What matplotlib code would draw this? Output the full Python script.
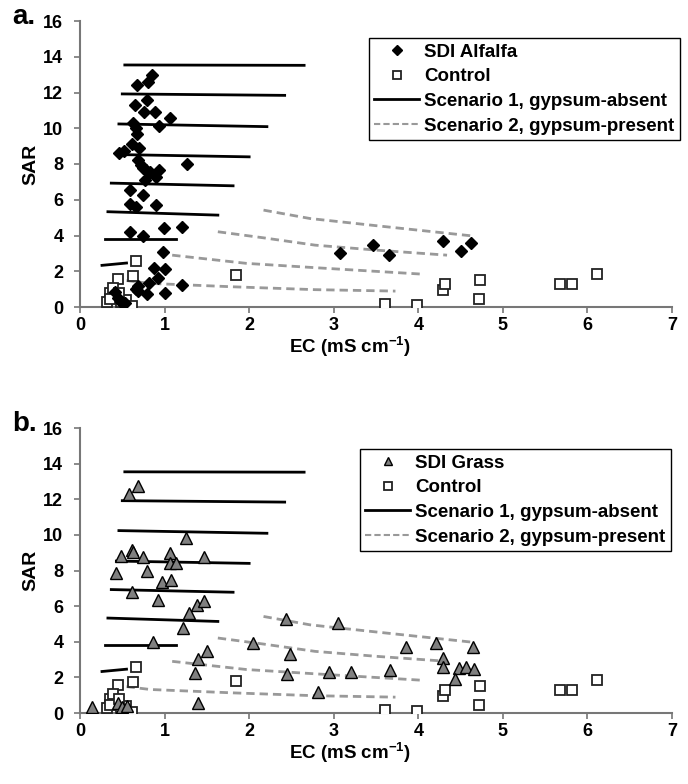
import matplotlib
matplotlib.use("Agg")
import matplotlib.pyplot as plt

plt.rcParams['font.family'] = ['Liberation Sans', 'DejaVu Sans']
plt.rcParams['font.weight'] = 'bold'
plt.rcParams['mathtext.fontset'] = 'custom'
plt.rcParams['mathtext.rm'] = 'Liberation Sans'
plt.rcParams['mathtext.bf'] = 'Liberation Sans:bold'

# SDI Alfalfa (panel a)
alf_ec = [0.85, 0.80, 0.67, 0.79, 0.65, 0.76, 0.89, 1.06, 0.63, 0.66, 0.94, 0.67,
          0.61, 0.70, 0.46, 0.52, 0.68, 0.72, 0.74, 0.78, 0.83, 0.93, 0.90, 0.77,
          1.26, 0.59, 0.75, 0.59, 0.66, 0.90, 0.59, 0.75, 0.99, 1.21, 0.98, 0.88,
          1.00, 0.92, 0.82, 1.21, 0.68, 0.66, 0.69, 0.79, 1.00, 0.41, 0.45, 0.48,
          0.53, 3.08, 3.46, 3.65, 4.29, 4.51, 4.62]
alf_sar = [13.0, 12.6, 12.4, 11.6, 11.3, 10.9, 10.9, 10.6, 10.3, 10.0, 10.1, 9.7,
           9.1, 8.9, 8.6, 8.75, 8.2, 7.95, 7.75, 7.65, 7.55, 7.65, 7.3, 7.1,
           8.0, 6.55, 6.27, 5.77, 5.6, 5.7, 4.2, 4.0, 4.4, 4.45, 3.05, 2.2,
           2.15, 1.65, 1.33, 1.25, 1.15, 1.0, 0.9, 0.7, 0.8, 0.85, 0.5, 0.3,
           0.25, 3.0, 3.46, 2.9, 3.69, 3.15, 3.6]

# SDI Grass (panel b)
grass_ec = [0.68, 0.58, 1.25, 0.61, 0.63, 0.49, 0.75, 1.07, 1.47, 1.07, 1.14, 0.43,
            0.79, 0.97, 1.08, 0.62, 0.92, 1.38, 1.47, 1.29, 1.22, 0.86, 1.50, 1.39,
            1.36, 1.39, 0.14, 0.45, 0.50, 0.55, 2.43, 2.05, 2.48, 2.45, 2.94, 2.82,
            3.05, 3.86, 3.21, 3.66, 4.21, 4.29, 4.29, 4.65, 4.48, 4.57, 4.66, 4.43]
grass_sar = [12.77, 12.3, 9.85, 9.16, 9.03, 8.84, 8.78, 9.0, 8.78, 8.44, 8.44, 7.88,
             8.0, 7.34, 7.47, 6.78, 6.35, 6.07, 6.31, 5.6, 4.76, 4.0, 3.5, 3.02,
             2.23, 0.54, 0.32, 0.55, 0.35, 0.4, 5.26, 3.92, 3.3, 2.17, 2.29, 1.2,
             5.04, 3.69, 2.32, 2.42, 3.95, 3.1, 2.57, 3.69, 2.51, 2.57, 2.46, 1.91]

# Control (same in both panels)
ctl_ec = [0.66, 0.63, 0.45, 1.84, 0.35, 0.32, 0.39, 0.36, 0.49, 0.54, 0.61, 0.46,
          3.61, 3.98, 4.29, 4.32, 4.73, 4.72, 5.67, 5.82, 6.11]
ctl_sar = [2.57, 1.75, 1.55, 1.79, 0.8, 0.3, 1.04, 0.45, 0.3, 0.39, 0.06, 0.76,
           0.17, 0.1, 0.95, 1.27, 1.5, 0.43, 1.27, 1.27, 1.84]

# Scenario 1, gypsum-absent (start/end of each line)
s1_ec = [[0.53, 2.65], [0.50, 2.42], [0.46, 2.21], [0.43, 2.00],
         [0.37, 1.81], [0.33, 1.63], [0.30, 1.13], [0.26, 0.55]]
s1_sar = [[13.54, 13.52], [11.92, 11.84], [10.24, 10.09], [8.53, 8.40],
          [6.93, 6.78], [5.33, 5.14], [3.80, 3.80], [2.33, 2.46]]

# Scenario 2, gypsum-present
s2_ec = [[2.17, 2.72, 3.50, 4.65],
         [1.63, 2.17, 2.78, 3.51, 4.34],
         [1.09, 1.97, 2.78, 4.04],
         [0.55, 0.83, 1.81, 2.78, 3.73]]
s2_sar = [[5.42, 4.95, 4.55, 3.97],
          [4.21, 3.87, 3.46, 3.18, 2.90],
          [2.90, 2.44, 2.20, 1.84],
          [1.48, 1.32, 1.13, 0.97, 0.89]]

W, H = 688, 784
fig = plt.figure(figsize=(W / 100, H / 100), dpi=100)

panels = [
    ("a.", alf_ec, alf_sar, "SDI Alfalfa", dict(marker="D", color="black", ms=6.5,
                                                 mec="black")),
    ("b.", grass_ec, grass_sar, "SDI Grass", dict(marker="^", color="#808080", ms=8,
                                                 mec="black", mew=1.0)),
]
ax_px = [(21, 307), (428, 713)]
leg_px = [(680, 38), (671, 449)]

for i, (tag, ex, sy, name, mk) in enumerate(panels):
    top, bot = ax_px[i]
    ax = fig.add_axes([80 / W, 1 - bot / H, 592 / W, (bot - top) / H])

    for xs, ys in zip(s1_ec, s1_sar):
        ax.plot(xs, ys, color="black", lw=2, zorder=2)
    for xs, ys in zip(s2_ec, s2_sar):
        ax.plot(xs, ys, color="#999999", lw=2, ls=(0, (3, 1.8)), zorder=2)

    ax.plot(ctl_ec, ctl_sar, ls="none", marker="s", ms=7, mfc="white",
            mec="#222222", mew=1.3, zorder=3)
    ax.plot(ex, sy, ls="none", zorder=4, **mk)

    ax.set_xlim(0, 7)
    ax.set_ylim(0, 16)
    ax.set_xticks(range(0, 8))
    ax.set_yticks(range(0, 17, 2))
    for s in ["top", "right"]:
        ax.spines[s].set_visible(False)
    for s in ["left", "bottom"]:
        ax.spines[s].set_color("#777777")
        ax.spines[s].set_linewidth(1.5)
    ax.tick_params(axis="both", colors="#777777", labelcolor="black",
                   labelsize=13, length=4, width=1.2)
    ax.tick_params(axis="x", pad=3)
    ax.tick_params(axis="y", pad=8)
    for lab in ax.get_xticklabels() + ax.get_yticklabels():
        lab.set_fontweight("bold")

    ax.set_ylabel("SAR", fontsize=14, fontweight="bold", labelpad=3)
    fig.text(350 / W, 1 - (bot + 40) / H, r"EC (mS cm$^{\mathbf{-1}}$)",
             ha="center", va="center", fontsize=13.5, fontweight="bold")
    fig.text(12 / W, 1 - (top - 4) / H, tag, ha="left", va="center",
             fontsize=20, fontweight="bold")

    h_pts, = ax.plot([], [], ls="none", **mk)
    h_ctl, = ax.plot([], [], ls="none", marker="s", ms=7, mfc="white",
                     mec="#222222", mew=1.3)
    h_s1, = ax.plot([], [], color="black", lw=2)
    h_s2, = ax.plot([], [], color="#999999", lw=1.5, ls=(0, (3, 1.5)))
    lx, ly = leg_px[i]
    leg = ax.legend([h_pts, h_ctl, h_s1, h_s2],
                    [name, "Control", "Scenario 1, gypsum-absent",
                     "Scenario 2, gypsum-present"],
                    loc="upper right", bbox_to_anchor=(lx / W, 1 - ly / H),
                    bbox_transform=fig.transFigure, borderaxespad=0,
                    fancybox=False, framealpha=1, edgecolor="black",
                    prop=dict(size=13.5, weight="bold"), handlelength=2.4,
                    labelspacing=0.4, borderpad=0.3, handletextpad=0.25,
                    markerscale=0.75)
    leg.get_frame().set_linewidth(1.0)

fig.savefig("out.png", dpi=100)
